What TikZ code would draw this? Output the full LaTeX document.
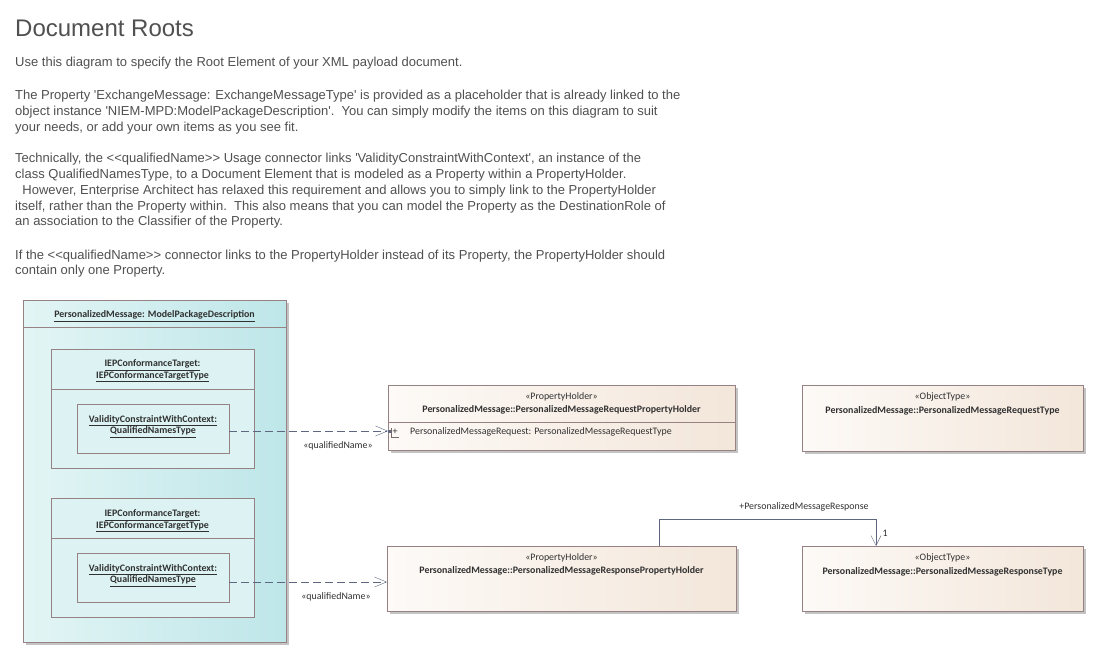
\documentclass[tikz,border=0pt]{standalone}
\usepackage{fontspec}
\setmainfont{Liberation Sans}
\newfontfamily\umlfont{Carlito}
\usetikzlibrary{arrows.meta}
\newcommand\sq{\textquotesingle}
\definecolor{txtc}{HTML}{505050}
\definecolor{umltxt}{HTML}{303030}
\definecolor{bordc}{HTML}{968282}
\definecolor{linec}{HTML}{5D6880}
\definecolor{cyanL}{HTML}{E3F5F5}
\definecolor{cyanR}{HTML}{BEE6E9}
\definecolor{cyanIn}{HTML}{DDF3F3}
\definecolor{orgL}{HTML}{FDFAF7}
\definecolor{orgR}{HTML}{F3E6DA}
\definecolor{shadc}{HTML}{C4C4C4}
\tikzset{
  para/.style={anchor=base west, inner sep=0, text=txtc, font=\fontsize{13}{15}\selectfont},
  pkgbox/.style={draw=bordc, left color=cyanL, right color=cyanR, anchor=north west, inner sep=0},
  inbox/.style={draw=bordc, fill=cyanIn, anchor=north west, inner sep=0},
  clsbox/.style={draw=bordc, left color=orgL, right color=orgR, anchor=north west, inner sep=0},
  shad/.style={fill=shadc, draw=none},
  umlb/.style={text=umltxt, inner sep=0, font=\umlfont\bfseries\fontsize{9.9}{11.5}\selectfont},
  umln/.style={text=umltxt, inner sep=0, font=\umlfont\fontsize{9.9}{11.5}\selectfont},
  qdep/.style={draw=linec, dash pattern=on 8pt off 4pt, -{Straight Barb[length=12pt,width=10pt]}},
  assoc/.style={draw=linec, -{Straight Barb[length=10pt,width=10pt]}},
}
\begin{document}
\begin{tikzpicture}[x=1pt,y=-1pt]
\useasboundingbox[fill=white] (0,0) rectangle (1094,655);

% ---- heading and explanation text
\node[para, font=\fontsize{24}{28}\selectfont] (title) at (15,37) {Document Roots};
\node[para] (t1) at (15,67) {Use this diagram to specify the Root Element of your XML payload document.};
\node[para] (t2) at (15,100) {The Property \sq ExchangeMessage: ExchangeMessageType\sq\ is provided as a placeholder that is already linked to the};
\node[para] (t3) at (15,115.7) {object instance \sq NIEM-MPD:ModelPackageDescription\sq.\ \ You can simply modify the items on this diagram to suit};
\node[para] (t4) at (15,131.4) {your needs, or add your own items as you see fit.};
\node[para] (t5) at (15,163) {Technically, the <{}<qualifiedName>{}> Usage connector links \sq ValidityConstraintWithContext\sq, an instance of the};
\node[para] (t6) at (15,178.7) {class QualifiedNamesType, to a Document Element that is modeled as a Property within a PropertyHolder.};
\node[para] (t7) at (15,194.4) {\ \ However, Enterprise Architect has relaxed this requirement and allows you to simply link to the PropertyHolder};
\node[para] (t8) at (15,210.1) {itself, rather than the Property within.\ \ This also means that you can model the Property as the DestinationRole of};
\node[para] (t9) at (15,225.8) {an association to the Classifier of the Property.};
\node[para] (t10) at (15,259) {If the <{}<qualifiedName>{}> connector links to the PropertyHolder instead of its Property, the PropertyHolder should};
\node[para] (t11) at (15,274.7) {contain only one Property.};

% ---- package instance (outer)
\fill[shad] (26,303) rectangle (289,645);
\node[pkgbox, minimum width=263pt, minimum height=342pt] (pkg) at (23,300) {};
\draw[bordc] (23,327) -- (286,327);
\node[umlb] (pkgname) at (154.5,316) {\underline{PersonalizedMessage: ModelPackageDescription}};

% ---- conformance target 1
\node[inbox, minimum width=203pt, minimum height=119pt] (ct1) at (51,349) {};
\draw[bordc] (51,389) -- (254,389);
\node[umlb, align=center] (ct1name) at (152.5,371) {\underline{IEPConformanceTarget:}\\[0pt]\underline{IEPConformanceTargetType}};
\node[inbox, minimum width=152pt, minimum height=49pt] (vc1) at (77,404) {};
\node[umlb, align=center] (vc1name) at (153,426.5) {\underline{ValidityConstraintWithContext:}\\[0pt]\underline{QualifiedNamesType}};

% ---- conformance target 2
\node[inbox, minimum width=203pt, minimum height=119pt] (ct2) at (51,498) {};
\draw[bordc] (51,538) -- (254,538);
\node[umlb, align=center] (ct2name) at (152.5,521) {\underline{IEPConformanceTarget:}\\[0pt]\underline{IEPConformanceTargetType}};
\node[inbox, minimum width=152pt, minimum height=49pt] (vc2) at (77,553) {};
\node[umlb, align=center] (vc2name) at (153,575.5) {\underline{ValidityConstraintWithContext:}\\[0pt]\underline{QualifiedNamesType}};

% ---- request property holder
\fill[shad] (391,388) rectangle (738,453);
\node[clsbox, minimum width=347pt, minimum height=65pt] (reqph) at (388,385) {};
\draw[bordc] (388,422) -- (735,422);
\node[umln] (reqphst) at (561.5,397) {«PropertyHolder»};
\node[umlb] (reqphname) at (561.5,410) {PersonalizedMessage::PersonalizedMessageRequestPropertyHolder};
\draw[bordc!80!black, line width=0.6pt] (391,428) -- (391,437) -- (399,437);
\node[umln] (plus) at (395,432) {+};
\node[umln, anchor=west] (reqattr) at (410,432) {PersonalizedMessageRequest: PersonalizedMessageRequestType};

% ---- request object type
\fill[shad] (805,388) rectangle (1086,454);
\node[clsbox, minimum width=281pt, minimum height=66pt] (reqot) at (802,385) {};
\node[umln] (reqotst) at (942.5,397) {«ObjectType»};
\node[umlb] (reqotname) at (942.5,411) {PersonalizedMessage::PersonalizedMessageRequestType};

% ---- response property holder
\fill[shad] (390,549) rectangle (739,614);
\node[clsbox, minimum width=349pt, minimum height=65pt] (resph) at (387,546) {};
\node[umln] (resphst) at (561.5,558) {«PropertyHolder»};
\node[umlb] (resphname) at (561.5,571) {PersonalizedMessage::PersonalizedMessageResponsePropertyHolder};

% ---- response object type
\fill[shad] (805,549) rectangle (1086,614);
\node[clsbox, minimum width=281pt, minimum height=65pt] (resot) at (802,546) {};
\node[umln] (resotst) at (942.5,558) {«ObjectType»};
\node[umlb] (resotname) at (942.5,572) {PersonalizedMessage::PersonalizedMessageResponseType};

% ---- qualifiedName dependencies
\draw[qdep] (vc1.east |- 0,431) -- (reqph.west |- 0,431);
\fill[linec] (388,429.5) rectangle (391,432.5);
\node[umln] (q1) at (338,446) {«qualifiedName»};
\draw[qdep] (vc2.east |- 0,582) -- (resph.west |- 0,582);
\node[umln] (q2) at (336,597) {«qualifiedName»};

% ---- association
\coordinate (a1) at (659,519);
\coordinate (a2) at (876,519);
\draw[assoc] (resph.north -| a1) -- (a1) -- (a2) -- (resot.north -| a2);
\node[umln] (role) at (804,507) {+PersonalizedMessageResponse};
\node[umln] (mult) at (885,533) {1};
\end{tikzpicture}
\end{document}
